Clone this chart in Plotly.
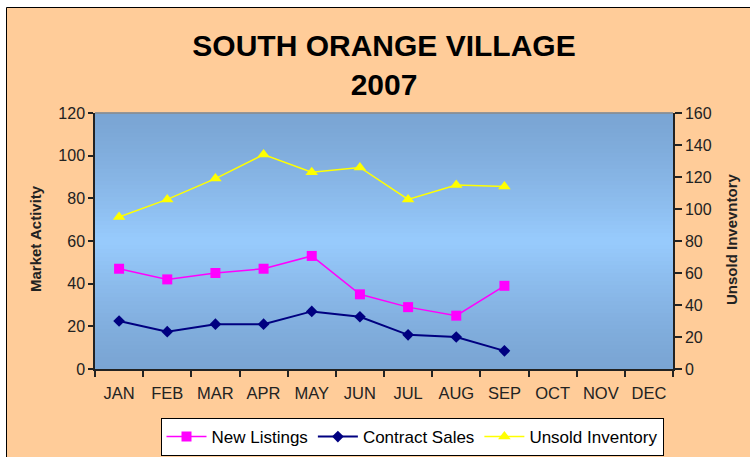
import plotly.graph_objects as go

months = ["JAN", "FEB", "MAR", "APR", "MAY", "JUN", "JUL", "AUG", "SEP", "OCT", "NOV", "DEC"]
new_listings = [47, 42, 45, 47, 53, 35, 29, 25, 39, None, None, None]
contract_sales = [22.5, 17.5, 21, 21, 27, 24.5, 16, 15, 8.5, None, None, None]
unsold_inventory = [95, 106, 119, 134, 123, 126, 106, 115, 114, None, None, None]

W, H = 750, 457
L, R, T, B = 95, 77, 113, 88
PW, PH = W - L - R, H - T - B

def px_x(x):
    return (x - L) / PW

def px_y(y):
    return (H - B - y) / PH

PEACH = "#FFCC99"
FONT = "Liberation Sans, Arial, sans-serif"
AX = "#222222"

fig = go.Figure()
fig.add_trace(go.Scatter(x=months, y=new_listings, name="New Listings", mode="lines+markers",
                         line=dict(color="#FF00FF", width=1.5),
                         marker=dict(symbol="square", size=10, color="#FF00FF", line=dict(width=0))))
fig.add_trace(go.Scatter(x=months, y=contract_sales, name="Contract Sales", mode="lines+markers",
                         line=dict(color="#000080", width=2),
                         marker=dict(symbol="diamond", size=9, color="#000080", line=dict(width=0))))
fig.add_trace(go.Scatter(x=months, y=unsold_inventory, name="Unsold Inventory", mode="lines+markers",
                         yaxis="y2",
                         line=dict(color="#FFFF00", width=1.5),
                         marker=dict(symbol="triangle-up", size=11, color="#FFFF00", line=dict(width=0))))

shapes = []
# chart frame
shapes.append(dict(type="rect", xref="paper", yref="paper", layer="below",
                   x0=px_x(6.5), x1=px_x(770), y0=px_y(480), y1=px_y(7.5),
                   fillcolor=PEACH, line=dict(color="#000000", width=1)))
# plot-area vertical gradient
c_edge = (122, 165, 212)
c_mid = (152, 203, 253)
N = 64
for i in range(N):
    t = (i + 0.5) / N
    f = 1 - abs(t - 0.5) * 2
    f = f ** 1.3
    col = tuple(round(c_edge[k] + (c_mid[k] - c_edge[k]) * f) for k in range(3))
    shapes.append(dict(type="rect", xref="paper", yref="paper", layer="below",
                       x0=0, x1=1, y0=i / N, y1=(i + 1) / N + 0.002,
                       fillcolor="rgb(%d,%d,%d)" % col, line=dict(width=0)))
# plot-area top border
shapes.append(dict(type="line", xref="paper", yref="paper", layer="below",
                   x0=0, x1=1, y0=1, y1=1, line=dict(color="#8a8a8a", width=1.5)))

fig.update_layout(
    width=W, height=H,
    margin=dict(l=L, r=R, t=T, b=B, autoexpand=False),
    paper_bgcolor="white",
    plot_bgcolor="rgba(0,0,0,0)",
    font=dict(family=FONT, color=AX, size=16),
    shapes=shapes,
    showlegend=True,
    title=dict(text="<b>SOUTH ORANGE VILLAGE</b><br><b>2007</b>",
               font=dict(family=FONT, size=30, color="#000000"),
               x=0.5, xref="paper", xanchor="center",
               y=1 - 56 / H, yref="container", yanchor="top"),
    xaxis=dict(type="category", categoryorder="array", categoryarray=months,
               range=[-0.5, 11.5], tickson="boundaries", ticks="outside", ticklen=6,
               tickcolor=AX, tickwidth=1.5, showline=True, linecolor=AX, linewidth=1.5,
               showgrid=False, zeroline=False, tickfont=dict(size=16.5, color=AX),
               ticklabelstandoff=8),
    yaxis=dict(range=[0, 120], dtick=20, ticks="outside", ticklen=5, tickcolor=AX, tickwidth=1.5,
               showline=True, linecolor=AX, linewidth=1.5, showgrid=False, zeroline=False,
               tickfont=dict(size=16, color=AX)),
    yaxis2=dict(range=[0, 160], dtick=20, overlaying="y", side="right", ticks="outside", ticklen=7,
                tickcolor=AX, tickwidth=1.5, showline=True, linecolor=AX, linewidth=1.5,
                showgrid=False, zeroline=False, tickfont=dict(size=16, color=AX)),
    yaxis3=dict(range=[0, 160], dtick=20, overlaying="y", side="right", ticks="inside", ticklen=5,
                tickcolor=AX, tickwidth=1.5, showline=False, showgrid=False, zeroline=False,
                showticklabels=False),
    xaxis2=dict(range=[-0.5, 11.5], tick0=-0.5, dtick=1, overlaying="x", side="bottom",
                ticks="inside", ticklen=4, tickcolor=AX, tickwidth=1.5, showline=False,
                showgrid=False, zeroline=False, showticklabels=False),
    legend=dict(orientation="h", x=px_x(412), xanchor="center", y=px_y(418), yanchor="top",
                bgcolor="white", bordercolor="#000000", borderwidth=1,
                font=dict(family=FONT, size=17, color="#000000"),
                itemwidth=40, tracegroupgap=0),
    annotations=[
        dict(text="<b>Market Activity</b>", xref="paper", yref="paper", x=px_x(35), y=px_y(239),
             xanchor="center", yanchor="middle", textangle=-90, showarrow=False,
             font=dict(family=FONT, size=15, color=AX)),
        dict(text="<b>Unsold Invevntory</b>", xref="paper", yref="paper", x=px_x(731), y=px_y(239),
             xanchor="center", yanchor="middle", textangle=-90, showarrow=False,
             font=dict(family=FONT, size=15, color=AX)),
    ],
)

fig.write_html("out.html", config={"displayModeBar": False},
               post_script="document.body.style.margin='0';")
